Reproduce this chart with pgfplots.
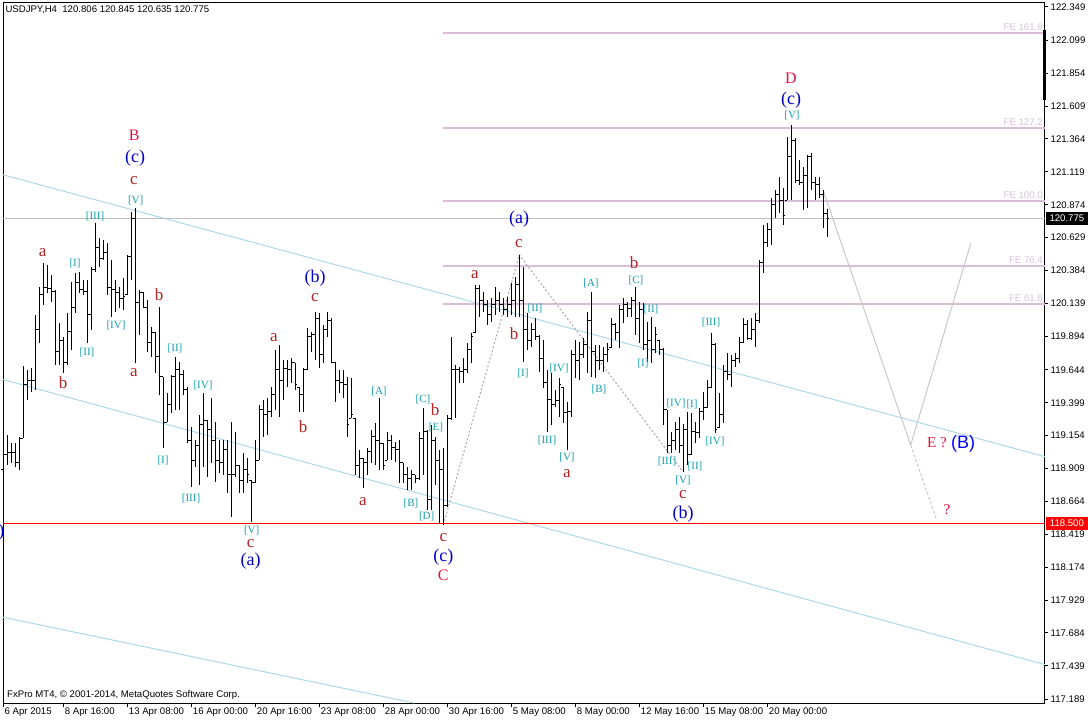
\documentclass[border=0pt]{standalone}
\usepackage{pgfplots}
\pgfplotsset{compat=1.18}
\usepackage{pgfplotstable}
\usepackage{fontspec}
\setmainfont{Liberation Sans}
\newfontfamily\tnr{Liberation Serif}
\newfontfamily\arl{Liberation Sans}
\definecolor{wred}{RGB}{178,34,34}
\definecolor{wcrim}{RGB}{220,20,60}
\definecolor{wblue}{RGB}{0,0,205}
\definecolor{wpblue}{RGB}{0,0,255}
\definecolor{wteal}{RGB}{20,160,170}
\definecolor{thist}{RGB}{216,191,216}
\definecolor{chan}{RGB}{173,216,230}
\definecolor{silv}{RGB}{192,192,192}
\definecolor{traj}{RGB}{200,200,200}
\definecolor{dotg}{RGB}{170,170,170}
\definecolor{mtred}{RGB}{255,0,0}
\tikzset{
  lr/.style={text=wred, font=\tnr\fontsize{17}{17}\selectfont, inner sep=0pt},
  lc/.style={text=wcrim, font=\tnr\fontsize{16}{16}\selectfont, inner sep=0pt},
  lb/.style={text=wblue, font=\tnr\fontsize{18}{18}\selectfont, inner sep=0pt},
  lt/.style={text=wteal, font=\tnr\fontsize{11}{11}\selectfont, inner sep=0pt},
  fe/.style={text=thist, font=\fontsize{9.6}{11}\selectfont, inner sep=0pt, anchor=base east, yshift=2.5pt},
}
\pgfdeclareplotmark{otick}{\pgfpathmoveto{\pgfqpoint{-2pt}{0pt}}\pgfpathlineto{\pgfqpoint{0pt}{0pt}}\pgfusepathqstroke}
\pgfdeclareplotmark{ctick}{\pgfpathmoveto{\pgfqpoint{0pt}{0pt}}\pgfpathlineto{\pgfqpoint{2pt}{0pt}}\pgfusepathqstroke}
\pgfplotstableread{
k o h l c
0 118.898 119.144 118.786 119.010
1 119.010 119.159 118.935 119.025
2 119.025 119.099 118.950 119.025
3 119.025 119.099 118.920 118.957
4 118.957 119.144 118.898 119.136
5 119.136 119.672 119.136 119.531
6 119.531 119.643 119.419 119.568
7 119.568 119.657 119.479 119.568
8 119.568 120.053 119.494 119.941
9 119.941 120.261 119.844 120.202
10 120.202 120.440 120.127 120.261
11 120.261 120.425 120.217 120.253
12 120.253 120.351 120.149 120.224
13 120.224 120.239 119.680 119.777
14 119.777 119.993 119.680 119.866
15 119.866 119.889 119.621 119.695
16 119.695 120.068 119.680 119.926
17 119.926 120.298 119.792 120.112
18 120.112 120.366 120.068 120.298
19 120.298 120.373 120.217 120.239
20 120.239 120.313 120.202 120.224
21 120.224 120.313 119.844 120.053
22 120.053 120.410 119.941 120.388
23 120.388 120.738 120.373 120.559
24 120.559 120.626 120.410 120.477
25 120.477 120.611 120.462 120.515
26 120.515 120.589 120.202 120.261
27 120.261 120.462 120.038 120.239
28 120.239 120.313 120.075 120.217
29 120.217 120.261 120.104 120.179
30 120.179 120.328 120.090 120.187
31 120.202 120.500 120.202 120.485
32 120.485 120.820 120.313 120.775
33 120.775 120.849 119.695 120.149
34 120.149 120.239 119.904 120.217
35 120.217 120.224 120.104 120.112
36 120.112 120.164 119.777 119.844
37 119.844 119.963 119.740 119.919
38 119.919 119.926 119.621 119.740
39 119.740 120.112 119.457 119.591
40 119.591 119.591 119.061 119.255
41 119.255 119.472 119.255 119.382
42 119.382 119.606 119.323 119.591
43 119.591 119.740 119.345 119.643
44 119.643 119.702 119.345 119.606
45 119.606 119.643 119.457 119.494
46 119.494 119.516 119.099 119.121
47 119.121 119.218 118.771 118.972
48 118.972 119.121 118.920 119.084
49 119.084 119.308 118.786 119.233
50 119.233 119.472 118.920 119.270
51 119.270 119.270 118.846 119.196
52 119.196 119.434 118.950 119.121
53 119.121 119.255 118.808 118.972
54 118.972 119.121 118.876 118.957
55 118.957 119.121 118.861 119.047
56 119.047 119.121 118.727 118.861
57 118.861 119.255 118.548 118.861
58 118.861 119.181 118.846 118.935
59 118.935 118.935 118.727 118.823
60 118.823 119.025 118.727 118.898
61 118.898 118.987 118.801 118.861
62 118.823 118.823 118.511 118.801
63 118.801 119.121 118.801 118.972
64 118.972 119.382 118.972 119.345
65 119.345 119.419 119.144 119.308
66 119.308 119.434 119.159 119.330
67 119.330 119.516 119.290 119.457
68 119.457 119.792 119.345 119.643
69 119.643 119.829 119.290 119.568
70 119.568 119.717 119.419 119.657
71 119.657 119.717 119.516 119.643
72 119.643 119.732 119.546 119.702
73 119.695 119.695 119.494 119.531
74 119.516 119.516 119.330 119.457
75 119.457 119.657 119.330 119.643
76 119.643 119.956 119.643 119.889
77 119.889 119.926 119.777 119.904
78 119.904 120.075 119.717 120.030
79 120.030 120.068 119.657 119.755
80 119.755 119.978 119.695 119.941
81 119.941 120.075 119.889 120.015
82 120.015 120.030 119.695 119.702
83 119.702 119.702 119.404 119.568
84 119.568 119.643 119.472 119.546
85 119.546 119.643 119.434 119.531
86 119.531 119.591 119.144 119.233
87 119.285 119.583 119.285 119.308
88 119.285 119.285 118.861 118.935
89 118.935 119.047 118.838 118.987
90 118.987 118.987 118.764 118.957
91 118.957 119.062 118.861 119.032
92 119.032 119.196 118.950 119.151
93 119.151 119.248 118.935 119.121
94 119.121 119.434 118.898 119.092
95 119.092 119.099 118.898 118.935
96 118.972 119.181 118.972 119.121
97 119.121 119.159 118.972 119.069
98 119.069 119.106 118.957 119.047
99 119.047 119.121 118.801 118.957
100 118.950 118.950 118.801 118.861
101 118.861 118.920 118.749 118.838
102 118.838 118.898 118.749 118.861
103 118.861 118.861 118.801 118.838
104 118.838 119.181 118.823 119.136
105 119.136 119.360 118.861 119.181
106 119.181 119.196 118.600 118.675
107 118.675 119.233 118.600 119.121
108 119.121 119.144 118.786 118.972
109 118.972 119.047 118.503 118.898
110 118.898 119.062 118.488 118.637
111 118.637 119.308 118.622 119.285
112 119.285 119.889 119.270 119.643
113 119.643 119.680 119.285 119.643
114 119.643 119.665 119.546 119.628
115 119.628 119.732 119.546 119.643
116 119.643 119.844 119.621 119.792
117 119.792 119.919 119.695 119.889
118 119.919 120.276 119.919 120.253
119 120.253 120.276 120.038 120.164
120 120.164 120.224 120.075 120.127
121 120.127 120.164 119.978 120.053
122 120.053 120.179 120.000 120.127
123 120.127 120.261 120.053 120.164
124 120.164 120.224 120.075 120.127
125 120.127 120.179 120.053 120.090
126 120.090 120.187 120.038 120.127
127 120.127 120.291 120.053 120.164
128 120.164 120.336 120.038 120.276
129 120.276 120.500 120.038 120.164
130 120.164 120.410 119.702 119.941
131 119.941 120.068 119.792 119.866
132 119.866 119.993 119.814 119.941
133 119.941 120.030 119.866 119.889
134 119.889 119.904 119.628 119.732
135 119.732 119.866 119.509 119.546
136 119.546 119.643 119.181 119.420
137 119.420 119.621 119.233 119.382
138 119.382 119.494 119.367 119.419
139 119.419 119.583 119.290 119.531
140 119.516 119.516 119.248 119.323
141 119.323 119.404 119.047 119.330
142 119.330 119.792 119.290 119.755
143 119.755 119.866 119.583 119.717
144 119.717 119.851 119.568 119.755
145 119.755 119.881 119.732 119.829
146 119.829 120.075 119.621 120.015
147 120.015 120.224 119.591 119.777
148 119.777 119.829 119.583 119.717
149 119.717 119.829 119.643 119.717
150 119.717 119.814 119.628 119.755
151 119.755 119.844 119.702 119.792
152 119.807 120.030 119.807 119.978
153 119.978 119.993 119.866 119.919
154 119.919 120.127 119.807 120.090
155 120.090 120.179 119.993 120.127
156 120.127 120.149 120.038 120.104
157 120.104 120.187 120.038 120.164
158 120.164 120.261 119.904 120.030
159 120.030 120.149 119.844 120.090
160 120.090 120.142 119.792 119.829
161 119.829 120.000 119.702 119.866
162 119.866 120.038 119.695 119.792
163 119.792 119.963 119.769 119.904
164 119.866 119.866 119.755 119.792
165 119.792 119.807 119.233 119.345
166 119.345 119.345 119.025 119.084
167 119.084 119.181 119.025 119.121
168 119.121 119.255 119.047 119.196
169 119.196 119.290 119.025 119.084
170 119.084 119.240 118.883 119.196
171 119.196 119.330 118.935 119.010
172 119.010 119.323 119.010 119.181
173 119.181 119.255 119.099 119.174
174 119.174 119.360 119.136 119.330
175 119.330 119.479 119.270 119.360
176 119.360 119.568 119.360 119.509
177 119.509 119.919 119.509 119.829
178 119.829 119.844 119.174 119.196
179 119.211 119.472 119.211 119.308
180 119.308 119.680 119.248 119.628
181 119.628 119.769 119.568 119.606
182 119.606 119.755 119.516 119.717
183 119.717 119.769 119.665 119.732
184 119.732 119.889 119.695 119.851
185 119.851 120.030 119.844 119.978
186 119.978 120.015 119.866 119.881
187 119.881 120.030 119.866 119.941
188 119.941 120.068 119.814 120.015
189 120.015 120.462 119.993 120.447
190 120.447 120.723 120.366 120.589
191 120.589 120.738 120.559 120.686
192 120.686 120.924 120.574 120.872
193 120.872 120.984 120.775 120.947
194 120.947 121.081 120.812 120.909
195 120.909 120.999 120.723 120.797
196 120.909 121.378 120.909 121.230
197 121.230 121.468 120.909 121.356
198 121.356 121.371 121.036 121.058
199 121.058 121.207 121.021 121.043
200 121.043 121.155 120.835 121.095
201 121.095 121.245 120.850 121.230
202 121.230 121.260 120.984 121.036
203 121.036 121.081 120.909 121.021
204 121.021 121.081 120.924 120.947
205 120.947 120.984 120.701 120.806
206 120.806 120.845 120.635 120.775
}\bars
\begin{document}
\begin{tikzpicture}
\path[use as bounding box] (0,0) rectangle (1088pt,721pt);
\begin{axis}[
  at={(3pt,18pt)}, anchor=south west, scale only axis,
  width=1042pt, height=700.3pt,
  xmin=-0.075, xmax=260.425, ymin=117.162, ymax=122.379,
  clip=false,
  axis line style={line width=1pt, black},
  tick align=outside, major tick length=3.5pt,
  tick style={line width=1pt, black},
  xtick pos=bottom, ytick pos=right, yticklabel pos=right,
  xtick={-0.075,15,31,47,63,79,95,111,127,143,159,175,191},
  xticklabels={6 Apr 2015,8 Apr 16:00,13 Apr 08:00,16 Apr 00:00,20 Apr 16:00,23 Apr 08:00,28 Apr 00:00,30 Apr 16:00,5 May 08:00,8 May 00:00,12 May 16:00,15 May 08:00,20 May 00:00},
  ytick={122.349,122.099,121.854,121.609,121.364,121.119,120.874,120.629,120.384,120.139,119.894,119.644,119.399,119.154,118.909,118.664,118.419,118.174,117.929,117.684,117.439,117.189},
  yticklabels={122.349,122.099,121.854,121.609,121.364,121.119,120.874,120.629,120.384,120.139,119.894,119.644,119.399,119.154,118.909,118.664,118.419,118.174,117.929,117.684,117.439,117.189},
  ticklabel style={font=\fontsize{9.6}{11}\selectfont, inner sep=0pt},
  xticklabel style={anchor=north west, xshift=1.5pt, yshift=-1pt},
  yticklabel style={anchor=west, xshift=2pt},
  /pgf/number format/assume math mode=true,
]
% channel lines
\addplot[draw=chan, line width=1pt, mark=none] coordinates {(-0.075,121.097) (260.425,118.997)};
\addplot[draw=chan, line width=1pt, mark=none] coordinates {(-0.075,119.572) (260.425,117.448)};
\addplot[draw=chan, line width=1pt, mark=none] coordinates {(-0.075,117.801) (102.68,117.162)};
% ask line
\addplot[draw=silv, line width=1pt, mark=none] coordinates {(-0.075,120.775) (260.425,120.775)};
% FE levels
\addplot[draw=thist, line width=2pt, mark=none] coordinates {(109.93,122.155) (260.425,122.155)};
\addplot[draw=thist, line width=2pt, mark=none] coordinates {(109.93,121.448) (260.425,121.448)};
\addplot[draw=thist, line width=2pt, mark=none] coordinates {(109.93,120.904) (260.425,120.904)};
\addplot[draw=thist, line width=2pt, mark=none] coordinates {(109.93,120.420) (260.425,120.420)};
\addplot[draw=thist, line width=2pt, mark=none] coordinates {(109.93,120.132) (260.425,120.132)};
\node[fe] at (axis cs:259.9,122.155) {FE 161.8};
\node[fe] at (axis cs:259.9,121.448) {FE 127.2};
\node[fe] at (axis cs:259.9,120.904) {FE 100.0};
\node[fe] at (axis cs:259.9,120.420) {FE 76.4};
\node[fe] at (axis cs:259.9,120.132) {FE 61.8};
% FE construction
\addplot[draw=dotg, line width=1pt, mark=none, dash pattern=on 2pt off 2pt] coordinates {(110,118.488) (129,120.500) (170,118.883)};
% projection
\addplot[draw=traj, line width=1pt, mark=none] coordinates {(205,120.978) (226.85,119.084) (241.9,120.589)};
\addplot[draw=traj, line width=1pt, mark=none, dash pattern=on 3pt off 2pt] coordinates {(226.85,119.084) (233.2,118.540)};
% OHLC bars: high-low range
\addplot[draw=none, mark=none, error bars/.cd, y dir=minus, y explicit, error mark=none, error bar style={draw=black, line width=1pt, solid}] table[x=k, y=h, y error minus expr=\thisrow{h}-\thisrow{l}] {\bars};
% open and close ticks
\addplot[draw=none, black, mark=otick, mark options={draw=black, line width=1pt, solid}] table[x=k, y=o] {\bars};
\addplot[draw=none, black, mark=ctick, mark options={draw=black, line width=1pt, solid}] table[x=k, y=c] {\bars};
% support line 118.500
\addplot[draw=mtred, line width=1.3pt, mark=none] coordinates {(-0.075,118.5) (260.425,118.5)};
% right-edge marker and price boxes
\draw[black, line width=3pt] (axis cs:260.425,122.176) -- (axis cs:260.425,121.654);
\node[fill=black, text=white, anchor=west, minimum width=42pt, minimum height=13pt, inner sep=0pt, font=\fontsize{9.6}{11}\selectfont] at (axis cs:260.6,120.775) {120.775};
\node[fill=mtred, text=white, anchor=west, minimum width=42pt, minimum height=13pt, inner sep=0pt, font=\fontsize{9.6}{11}\selectfont] at (axis cs:260.6,118.5) {118.500};
% header & footer
\node[anchor=west, inner sep=0pt, font=\fontsize{9.6}{11}\selectfont] at (axis cs:0.5,122.325) {USDJPY,H4\ \ 120.806 120.845 120.635 120.775};
\node[anchor=west, inner sep=0pt, font=\fontsize{9.6}{11}\selectfont] at (axis cs:0.925,117.222) {FxPro MT4, © 2001-2014, MetaQuotes Software Corp.};
% red small letters
\node[lr] at (axis cs:9.85,120.514) {a};
\node[lr] at (axis cs:14.93,119.546) {b};
\node[lr] at (axis cs:32.68,121.053) {c};
\node[lr] at (axis cs:32.68,119.620) {a};
\node[lr] at (axis cs:38.93,120.202) {b};
\node[lr] at (axis cs:67.68,119.881) {a};
\node[lr] at (axis cs:74.93,119.218) {b};
\node[lr] at (axis cs:77.93,120.180) {c};
\node[lr] at (axis cs:61.85,118.352) {c};
\node[lr] at (axis cs:89.93,118.660) {a};
\node[lr] at (axis cs:107.93,119.345) {b};
\node[lr] at (axis cs:110.0,118.397) {c};
\node[lr] at (axis cs:117.93,120.351) {a};
\node[lr] at (axis cs:128.93,120.582) {c};
\node[lr] at (axis cs:127.68,119.911) {b};
\node[lr] at (axis cs:140.93,118.868) {a};
\node[lr] at (axis cs:157.68,120.440) {b};
\node[lr] at (axis cs:169.93,118.712) {c};
% crimson capitals
\node[lc] at (axis cs:32.75,121.393) {B};
\node[lc] at (axis cs:110.0,118.111) {C};
\node[lc] at (axis cs:196.93,121.818) {D};
\node[lc, font=\tnr\fontsize{15}{15}\selectfont] at (axis cs:233.43,119.099) {E ?};
\node[lc, font=\tnr\fontsize{15}{15}\selectfont] at (axis cs:235.93,118.600) {?};
% blue
\node[lb] at (axis cs:32.93,121.224) {(c)};
\node[lb] at (axis cs:77.93,120.330) {(b)};
\node[lb] at (axis cs:61.85,118.215) {(a)};
\node[lb] at (axis cs:110.0,118.252) {(c)};
\node[lb] at (axis cs:128.93,120.768) {(a)};
\node[lb] at (axis cs:169.93,118.570) {(b)};
\node[lb] at (axis cs:196.93,121.654) {(c)};
\node[lb, anchor=east] at (axis cs:0.3,118.436) {)};
\node[text=wpblue, inner sep=0pt, font=\arl\fontsize{18}{18}\selectfont] at (axis cs:239.93,119.092) {(B)};
% teal sub-waves
\node[lt] at (axis cs:22.93,120.790) {[III]};
\node[lt] at (axis cs:33.1,120.909) {[V]};
\node[lt] at (axis cs:17.93,120.440) {[I]};
\node[lt] at (axis cs:20.93,119.777) {[II]};
\node[lt] at (axis cs:28.18,119.978) {[IV]};
\node[lt] at (axis cs:39.93,118.972) {[I]};
\node[lt] at (axis cs:42.93,119.807) {[II]};
\node[lt] at (axis cs:46.93,118.689) {[III]};
\node[lt] at (axis cs:49.93,119.531) {[IV]};
\node[lt] at (axis cs:62.1,118.451) {[V]};
\node[lt] at (axis cs:93.93,119.486) {[A]};
\node[lt] at (axis cs:101.93,118.652) {[B]};
\node[lt] at (axis cs:104.93,119.427) {[C]};
\node[lt] at (axis cs:105.85,118.550) {[D]};
\node[lt] at (axis cs:108.18,119.218) {[E]};
\node[lt] at (axis cs:132.93,120.105) {[II]};
\node[lt] at (axis cs:129.93,119.620) {[I]};
\node[lt] at (axis cs:138.93,119.658) {[IV]};
\node[lt] at (axis cs:135.93,119.121) {[III]};
\node[lt] at (axis cs:140.93,118.995) {[V]};
\node[lt] at (axis cs:146.93,120.291) {[A]};
\node[lt] at (axis cs:148.93,119.501) {[B]};
\node[lt] at (axis cs:158.18,120.313) {[C]};
\node[lt] at (axis cs:161.93,120.097) {[II]};
\node[lt] at (axis cs:159.93,119.695) {[I]};
\node[lt] at (axis cs:168.18,119.397) {[IV]};
\node[lt] at (axis cs:165.93,118.958) {[III]};
\node[lt] at (axis cs:169.93,118.823) {[V]};
\node[lt] at (axis cs:172.18,119.390) {[I]};
\node[lt] at (axis cs:172.93,118.928) {[II]};
\node[lt] at (axis cs:176.93,120.000) {[III]};
\node[lt] at (axis cs:177.93,119.107) {[IV]};
\node[lt] at (axis cs:197.18,121.542) {[V]};
\end{axis}
\end{tikzpicture}
\end{document}
